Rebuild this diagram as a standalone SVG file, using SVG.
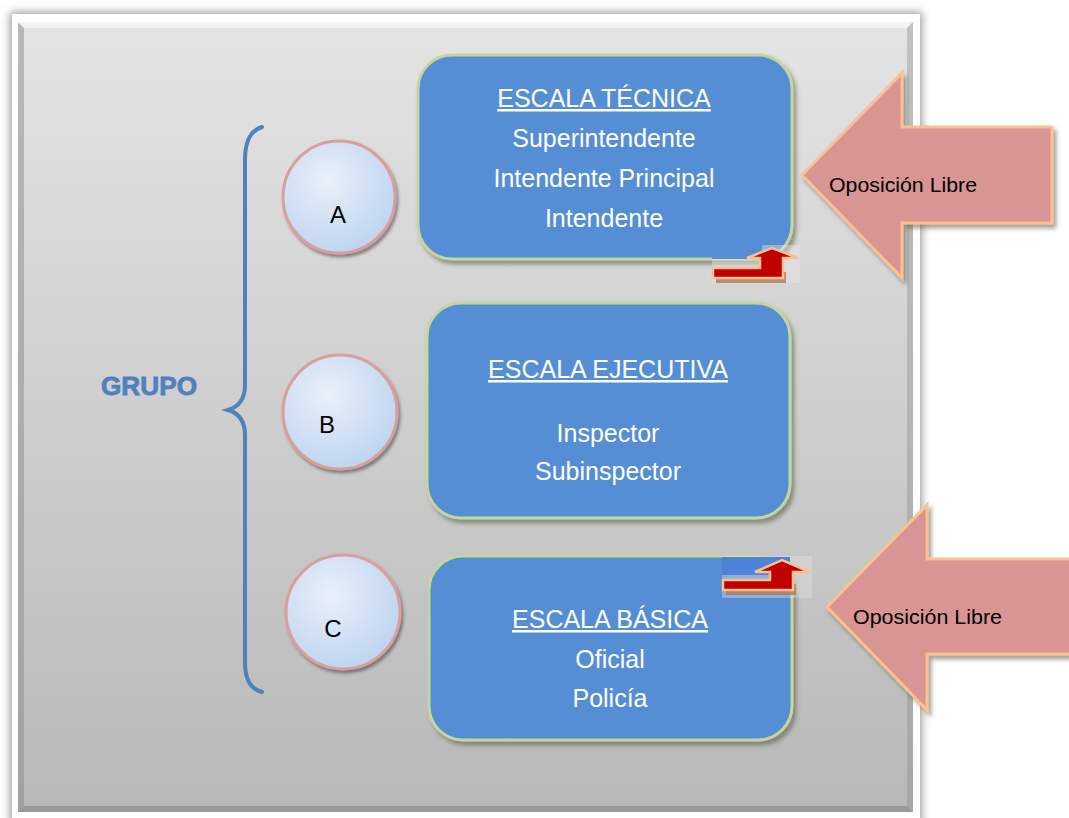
<svg xmlns="http://www.w3.org/2000/svg" width="1069" height="818" viewBox="0 0 1069 818">
<defs>
<linearGradient id="panelGrad" x1="0" y1="0" x2="0" y2="1">
<stop offset="0" stop-color="#e4e4e4"/>
<stop offset="1" stop-color="#b8b8b8"/>
</linearGradient>
<radialGradient id="circGrad" cx="0.4" cy="0.35" r="0.7">
<stop offset="0" stop-color="#eaf0f9"/>
<stop offset="1" stop-color="#bcd3f0"/>
</radialGradient>
<filter id="frameShadow" x="-5%" y="-5%" width="110%" height="110%">
<feGaussianBlur stdDeviation="4"/>
</filter>
<filter id="shadow" x="-10%" y="-10%" width="125%" height="125%">
<feDropShadow dx="3" dy="4" stdDeviation="2" flood-color="#4a4a3a" flood-opacity="0.5"/>
</filter>
<filter id="smallShadow" x="-10%" y="-10%" width="125%" height="125%">
<feDropShadow dx="2" dy="3" stdDeviation="1.5" flood-color="#333" flood-opacity="0.5"/>
</filter>
<style>
.box{fill:#558ed5;stroke:#c3d69b;stroke-width:3;filter:url(#shadow)}
.circ{fill:url(#circGrad);stroke:#dc9e9d;stroke-width:3;filter:url(#smallShadow)}
.big{fill:#d99594;stroke:#fac08f;stroke-width:3;filter:url(#shadow)}
.red{fill:#c00000;stroke:#fac08f;stroke-width:2.5}
.redsh{fill:#b07a55;opacity:0.8}
.bt{font-family:"Liberation Sans",Arial,sans-serif;font-size:25px;fill:#ffffff;text-anchor:middle}
.ul{text-decoration:underline}
.lab{font-family:"Liberation Sans",Arial,sans-serif;font-size:24px;fill:#000;text-anchor:middle}
.op{font-family:"Liberation Sans",Arial,sans-serif;font-size:21px;fill:#000}
.grp{font-family:"Liberation Sans",Arial,sans-serif;font-weight:bold;font-size:25px;fill:#4f81bd;stroke:#4f81bd;stroke-width:0.8;text-anchor:middle}
</style>
</defs>
<rect width="1069" height="818" fill="#ffffff"/>
<g id="frame">
<rect x="10" y="12" width="912" height="812" fill="#9a9a9a" filter="url(#frameShadow)"/>
<rect x="12" y="14" width="908" height="810" fill="#ffffff"/>
<rect x="18" y="22" width="895" height="790" fill="url(#panelGrad)"/>
<path d="M18 22 L24 28 L24 806 L18 812 Z" fill="#8c8c8c" opacity="0.5"/>
<path d="M18 22 L913 22 L907 28 L24 28 Z" fill="#f6f6f6" opacity="0.8"/>
<path d="M913 22 L913 812 L907 806 L907 28 Z" fill="#8f8f8f" opacity="0.4"/>
<path d="M18 812 L913 812 L907 806 L24 806 Z" fill="#7a7a7a" opacity="0.5"/>
</g>
<g id="grupo">
<path d="M262 127 Q245 132 245 160 L245 385 Q245 405 228 410 Q245 415 245 435 L245 662 Q245 688 262 692" fill="none" stroke="#4f81bd" stroke-width="4" stroke-linecap="round"/>
<text class="grp" x="149" y="395" textLength="96" lengthAdjust="spacingAndGlyphs">GRUPO</text>
</g>
<g id="circleA">
<circle class="circ" cx="339" cy="197" r="56"/>
<text class="lab" x="338" y="223">A</text>
</g>
<g id="circleB">
<circle class="circ" cx="340" cy="412" r="57"/>
<text class="lab" x="327" y="433">B</text>
</g>
<g id="circleC">
<circle class="circ" cx="343" cy="612" r="57"/>
<text class="lab" x="333" y="637">C</text>
</g>
<g id="boxA">
<rect class="box" x="418" y="55" width="374" height="204" rx="34"/>
<text class="bt ul" x="604" y="107">ESCALA TÉCNICA</text>
<text class="bt" x="604" y="147">Superintendente</text>
<text class="bt" x="604" y="187">Intendente Principal</text>
<text class="bt" x="604" y="227">Intendente</text>
</g>
<g id="boxB">
<rect class="box" x="427" y="303" width="363" height="215" rx="34"/>
<text class="bt ul" x="608" y="378">ESCALA EJECUTIVA</text>
<text class="bt" x="608" y="442">Inspector</text>
<text class="bt" x="608" y="480">Subinspector</text>
</g>
<g id="boxC">
<rect class="box" x="429" y="556" width="363" height="184" rx="34"/>
<text class="bt ul" x="610" y="628">ESCALA BÁSICA</text>
<text class="bt" x="610" y="668">Oficial</text>
<text class="bt" x="610" y="707">Policía</text>
</g>
<g id="connectors">
<g id="smallArrowA">
<rect x="712" y="245" width="88" height="38" fill="#e8e8e8" opacity="0.4"/>
<rect x="712" y="245" width="50" height="14" fill="#558ed5"/>
<path class="redsh" d="M716 272 L786 272 L786 283 L716 283 Z"/>
<path class="red" d="M713 268 L760 268 L760 258 L747 258 L772 248 L798 258 L783 258 L783 278 L713 278 Z"/>
</g>
<g id="smallArrowC">
<rect x="722" y="556" width="90" height="42" fill="#e0e0e0" opacity="0.4"/>
<rect x="722" y="557" width="68" height="18" fill="#4f83d9"/>
<path class="redsh" d="M726 584 L796 584 L796 595 L726 595 Z"/>
<path class="red" d="M723 580 L770 580 L770 572 L755 572 L782 560 L810 572 L793 572 L793 590 L723 590 Z"/>
</g>
<g id="bigArrowTop">
<path class="big" d="M802 175 L902 73 L902 127 L1052 127 L1052 223 L902 223 L902 278 Z"/>
<text class="op" x="829" y="192" textLength="148" lengthAdjust="spacingAndGlyphs">Oposición Libre</text>
</g>
<g id="bigArrowBottom">
<path class="big" d="M827 607 L927 505 L927 559 L1075 559 L1075 654 L927 654 L927 710 Z"/>
<text class="op" x="853" y="624" textLength="149" lengthAdjust="spacingAndGlyphs">Oposición Libre</text>
</g>
</g>
</svg>
